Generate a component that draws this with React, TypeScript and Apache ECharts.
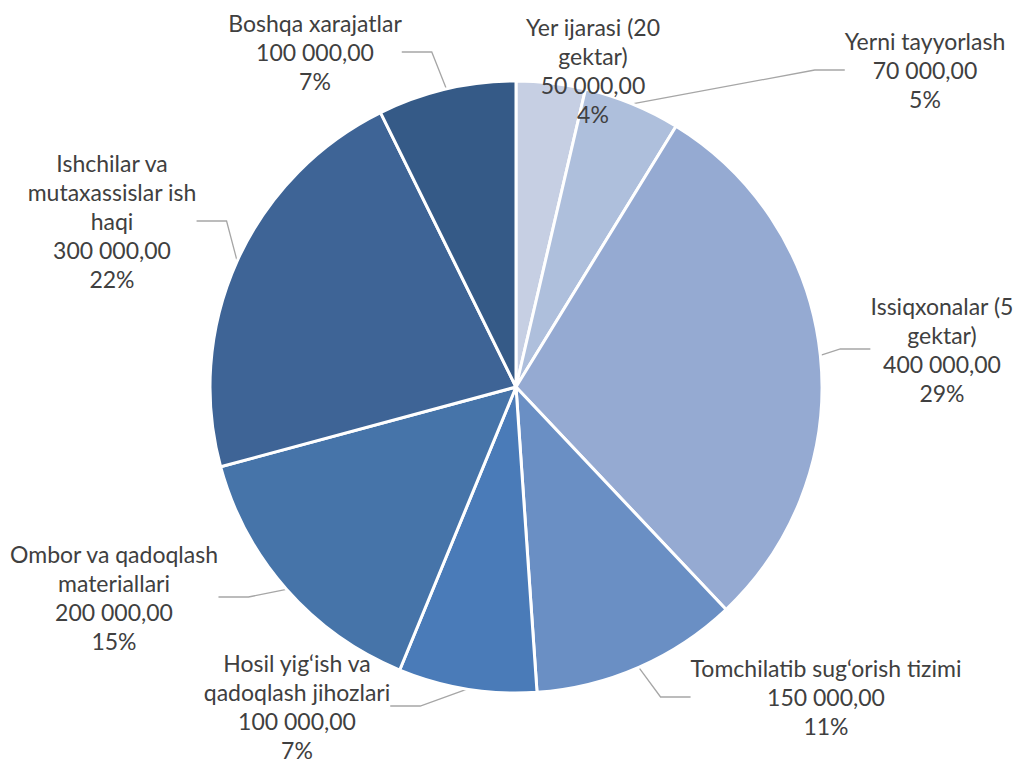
import React, { useEffect, useRef } from "react";
import * as echarts from "echarts";

const categories = [
  "Yer ijarasi (20 gektar)",
  "Yerni tayyorlash",
  "Issiqxonalar (5 gektar)",
  "Tomchilatib sug\u2018orish tizimi",
  "Hosil yig\u2018ish va qadoqlash jihozlari",
  "Ombor va qadoqlash materiallari",
  "Ishchilar va mutaxassislar ish haqi",
  "Boshqa xarajatlar",
];
const labelNames = [
  "Yer ijarasi (20\ngektar)",
  "Yerni tayyorlash",
  "Issiqxonalar (5\ngektar)",
  "Tomchilatib sug\u2018orish tizimi",
  "Hosil yig\u2018ish va\nqadoqlash jihozlari",
  "Ombor va qadoqlash\nmateriallari",
  "Ishchilar va\nmutaxassislar ish\nhaqi",
  "Boshqa xarajatlar",
];
const values = [50000, 70000, 400000, 150000, 100000, 200000, 300000, 100000];
const colors = ["#C6CFE3", "#AEBFDC", "#95AAD2", "#6A8FC4", "#4A7BB8", "#4674A9", "#3E6496", "#355A87"];
const labelPos: [number, number][] = [
  [593, 70],
  [925, 70],
  [942, 349],
  [826, 697],
  [297, 706],
  [114, 597],
  [112, 221],
  [315, 52],
];

function fmt(v: number): string {
  const s = Math.round(v).toString().replace(/\B(?=(\d{3})+(?!\d))/g, " ");
  return s + ",00";
}

export default function App() {
  const ref = useRef<HTMLDivElement>(null);
  useEffect(() => {
    if (!ref.current) return;
    const chart = echarts.init(ref.current, undefined, { renderer: "svg" });
    const total = values.reduce((a, b) => a + b, 0);
    chart.setOption({
      animation: false,
      backgroundColor: "#ffffff",
      series: [
        {
          type: "pie",
          center: [516, 387],
          radius: 306,
          startAngle: 90,
          clockwise: true,
          avoidLabelOverlap: false,
          data: categories.map((c, i) => ({
            name: c,
            value: values[i],
            itemStyle: { color: colors[i] },
            labelLine: { show: i !== 0 },
          })),
          itemStyle: { borderColor: "#ffffff", borderWidth: 3 },
          label: {
            show: true,
            position: "outside",
            color: "#404040",
            fontFamily: "Lato",
            fontSize: 23,
            lineHeight: 29,
            align: "center",
            formatter: (p: any) =>
              labelNames[p.dataIndex] + "\n" + fmt(p.value) + "\n" + Math.round((p.value / total) * 100) + "%",
          },
          labelLine: {
            show: true,
            lineStyle: { color: "#A6A6A6", width: 1.3 },
          },
          labelLayout: (params: any) => {
            const pos = labelPos[params.dataIndex];
            return { x: pos[0], y: pos[1], align: "center", verticalAlign: "middle" };
          },
          emphasis: { disabled: true },
        },
      ],
    });
    return () => chart.dispose();
  }, []);
  return <div ref={ref} style={{ position: "fixed", left: 0, top: 0, width: 1018, height: 763 }} />;
}
